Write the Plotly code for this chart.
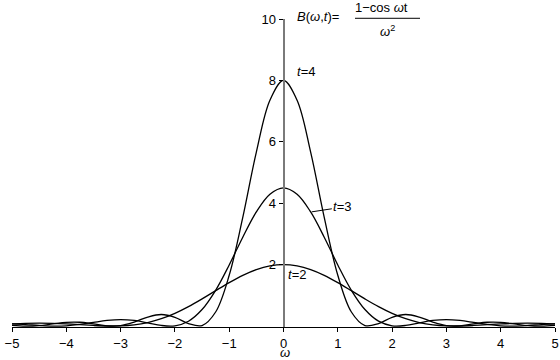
import plotly.graph_objects as go

# omega sample positions (step 0.25 from -5 to 5)
omega = [-5.0, -4.75, -4.5, -4.25, -4.0, -3.75, -3.5, -3.25, -3.0, -2.75, -2.5, -2.25, -2.0,
         -1.75, -1.5, -1.25, -1.0, -0.75, -0.5, -0.25, 0.0, 0.25, 0.5, 0.75, 1.0, 1.25, 1.5,
         1.75, 2.0, 2.25, 2.5, 2.75, 3.0, 3.25, 3.5, 3.75, 4.0, 4.25, 4.5, 4.75, 5.0]

B_t4 = [0.0237, 0.0005, 0.0168, 0.0706, 0.1224, 0.1251, 0.0705, 0.0088, 0.0174, 0.1316, 0.2943,
        0.3775, 0.2864, 0.0804, 0.0177, 0.4585, 1.654, 3.538, 5.665, 7.355, 8.0, 7.355, 5.665,
        3.538, 1.654, 0.4585, 0.0177, 0.0804, 0.2864, 0.3775, 0.2943, 0.1316, 0.0174, 0.0088,
        0.0705, 0.1251, 0.1224, 0.0706, 0.0168, 0.0005, 0.0237]

B_t3 = [0.0704, 0.0493, 0.0200, 0.0009, 0.0098, 0.0534, 0.1205, 0.1839, 0.2123, 0.1832, 0.1045,
        0.0211, 0.0100, 0.1593, 0.5381, 1.1652, 1.990, 2.8945, 3.717, 4.293, 4.5, 4.293, 3.717,
        2.8945, 1.990, 1.1652, 0.5381, 0.1593, 0.0100, 0.0211, 0.1045, 0.1832, 0.2123, 0.1839,
        0.1205, 0.0534, 0.0098, 0.0009, 0.0200, 0.0493, 0.0704]

B_t2 = [0.0736, 0.0885, 0.0944, 0.0887, 0.0716, 0.0465, 0.0201, 0.0022, 0.0044, 0.0385, 0.1146,
        0.2392, 0.4134, 0.6323, 0.8844, 1.1527, 1.416, 1.652, 1.8388, 1.9587, 2.0, 1.9587, 1.8388,
        1.652, 1.416, 1.1527, 0.8844, 0.6323, 0.4134, 0.2392, 0.1146, 0.0385, 0.0044, 0.0022,
        0.0201, 0.0465, 0.0716, 0.0887, 0.0944, 0.0885, 0.0736]

x_ticks = [-5, -4, -3, -2, -1, 0, 1, 2, 3, 4, 5]
y_ticks = [2, 4, 6, 8, 10]

FONT = "Liberation Sans, Arial, sans-serif"

fig = go.Figure()
for ys in (B_t2, B_t3, B_t4):
    fig.add_trace(go.Scatter(x=omega, y=ys, mode="lines",
                             line=dict(color="black", width=1.3, shape="spline", smoothing=1.0),
                             hoverinfo="skip", showlegend=False))

fig.update_layout(
    width=560, height=360,
    margin=dict(l=12, r=5, t=19, b=33, autoexpand=False),
    paper_bgcolor="white", plot_bgcolor="white",
    font=dict(family=FONT, size=13, color="black"),
    showlegend=False,
)

fig.update_xaxes(
    range=[-5, 5], tickvals=x_ticks, ticks="outside", ticklen=4, tickcolor="black",
    showline=True, linecolor="black", linewidth=1, showgrid=False, zeroline=False,
    tickfont=dict(size=13, family=FONT), automargin=False,
)
fig.update_yaxes(
    range=[-0.03, 10], tickvals=y_ticks, ticks="outside", ticklen=4, tickcolor="black",
    showline=True, linecolor="#7a7a7a", linewidth=2, showgrid=False, zeroline=False,
    anchor="free", position=0.5, tickfont=dict(size=13, family=FONT), automargin=False,
)

# labels on the curves (data coordinates)
for x, y, t in [(0.41, 8.28, "<i>t</i>=4"), (1.07, 3.91, "<i>t</i>=3"), (0.24, 1.69, "<i>t</i>=2")]:
    fig.add_annotation(x=x, y=y, text=t, showarrow=False, xref="x", yref="y",
                       xanchor="center", yanchor="middle",
                       font=dict(size=13, family=FONT, color="black"))

# formula and axis title (paper coordinates)
for x, y, t in [(0.5635, 1.0097, "<i>B</i>(<i>ω</i>,<i>t</i>)="),
                (0.6796, 1.0373, "1−cos <i>ω</i>t"),
                (0.6924, 0.962, "<i>ω</i><sup>2</sup>"),
                (0.5028, -0.0844, "<i>ω</i>")]:
    fig.add_annotation(x=x, y=y, text=t, showarrow=False, xref="paper", yref="paper",
                       xanchor="center", yanchor="middle",
                       font=dict(size=13, family=FONT, color="black"))

fig.add_shape(type="line", xref="x", yref="y", x0=0.52, y0=3.72, x1=0.89, y1=3.82,
              line=dict(color="black", width=1))
fig.add_shape(type="line", xref="paper", yref="paper", x0=0.6317, y0=1.0023, x1=0.7514, y1=1.0023,
              line=dict(color="black", width=1))

fig.write_html("out.html", config={"displayModeBar": False},
               post_script="document.body.style.margin='0';document.body.style.padding='0';")
